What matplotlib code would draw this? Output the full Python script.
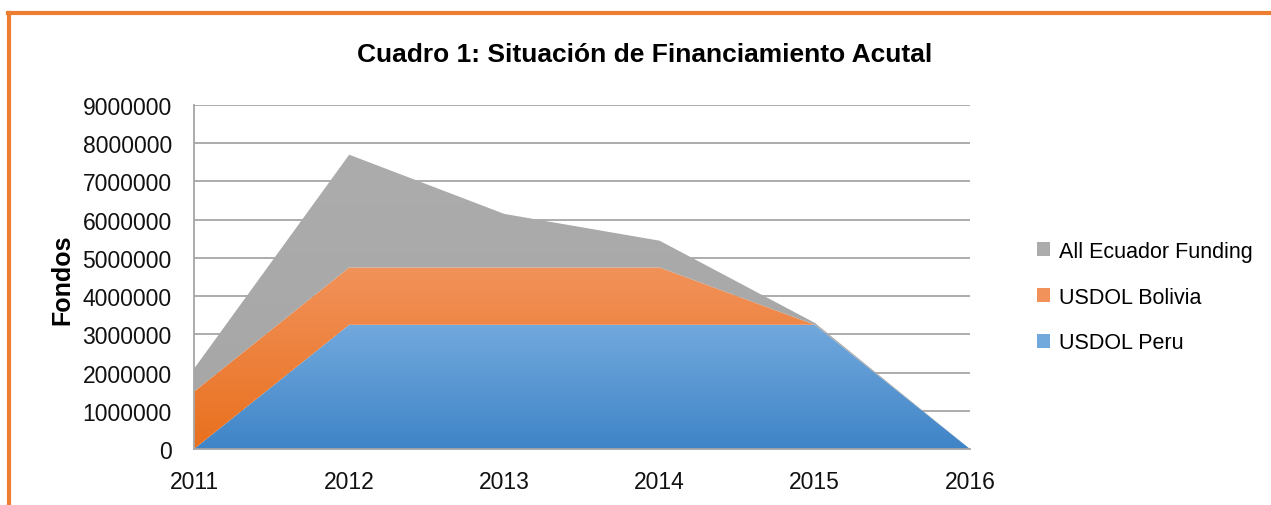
import numpy as np
import matplotlib.pyplot as plt
from matplotlib.patches import Patch
from matplotlib.lines import Line2D
from matplotlib.colors import LinearSegmentedColormap

# data
years = [2011, 2012, 2013, 2014, 2015, 2016]
peru = [0, 3250000, 3250000, 3250000, 3250000, 0]
bolivia = [1500000, 1500000, 1500000, 1500000, 0, 0]
ecuador = [600000, 2950000, 1400000, 700000, 50000, 0]
series_names = ['USDOL Peru', 'USDOL Bolivia', 'All Ecuador Funding']
yticks = [0, 1000000, 2000000, 3000000, 4000000, 5000000, 6000000, 7000000, 8000000, 9000000]

# gradient (top colour, bottom colour) per series, like the excel fills
grads = [('#72a9dd', '#3f84c7'), ('#f1925a', '#e9701e'), ('#acacac', '#a6a6a6')]

plt.rcParams['font.family'] = ['Liberation Sans Narrow', 'Liberation Sans', 'DejaVu Sans']

fig = plt.figure(figsize=(12.71, 5.06), dpi=100)
ax = fig.add_axes([194/1271, 1 - 450/506, (970 - 194)/1271, (450 - 106)/506])

x = np.array(years)
lower = np.zeros(len(years))
for vals, (ctop, cbot) in zip([peru, bolivia, ecuador], grads):
    upper = lower + np.array(vals)
    poly = ax.fill_between(x, lower, upper, facecolor='none', edgecolor='none')
    cmap = LinearSegmentedColormap.from_list('g', [cbot, ctop])
    grad = np.linspace(0, 1, 256).reshape(-1, 1)
    ymin, ymax = lower.min(), upper.max()
    im = ax.imshow(grad, cmap=cmap, aspect='auto', origin='lower',
                   extent=[x[0], x[-1], ymin, ymax], zorder=2)
    im.set_clip_path(poly.get_paths()[0], ax.transData)
    lower = upper

ax.set_xlim(2011, 2016)
ax.set_ylim(0, 9000000)
ax.set_yticks(yticks)
ax.set_yticklabels([str(v) for v in yticks])
ax.set_xticks(years)
ax.set_xticklabels([str(y) for y in years])
ax.tick_params(axis='both', length=0, labelsize=16.5, colors='#111111')
ax.tick_params(axis='y', pad=16)
ax.tick_params(axis='x', pad=15)
ax.grid(axis='y', color='#a6a6a6', linewidth=1.3, zorder=1)
ax.set_axisbelow(True)
for s in ['top', 'right']:
    ax.spines[s].set_visible(False)
for s in ['left', 'bottom']:
    ax.spines[s].set_color('#a6a6a6')
    ax.spines[s].set_linewidth(1.3)
    ax.spines[s].set_zorder(3)

ax.set_ylabel('Fondos', fontsize=18, fontweight='bold')
ax.yaxis.set_label_coords((74 - 194)/776, (450 - 280)/344)
fig.text(645/1271, 1 - 55/506, 'Cuadro 1: Situación de Financiamiento Acutal',
         ha='center', va='center', fontsize=19, fontweight='bold')

handles = [Patch(facecolor=grads[i][0], edgecolor='none') for i in [2, 1, 0]]
labels = [series_names[i] for i in [2, 1, 0]]
fig.legend(handles, labels, loc='center left', bbox_to_anchor=(1018/1271, 1 - 298/506),
           frameon=False, fontsize=15.5, handlelength=0.6, handleheight=0.6,
           handletextpad=0.4, labelspacing=1.15)

# orange frame round the chart (top and left edges)
fig.add_artist(Line2D([8/1271, 1], [1 - 14/506, 1 - 14/506], color='#ed7d31', linewidth=3))
fig.add_artist(Line2D([9/1271, 9/1271], [0, 1 - 14/506], color='#ed7d31', linewidth=3))

fig.savefig('out.png', dpi=100)
